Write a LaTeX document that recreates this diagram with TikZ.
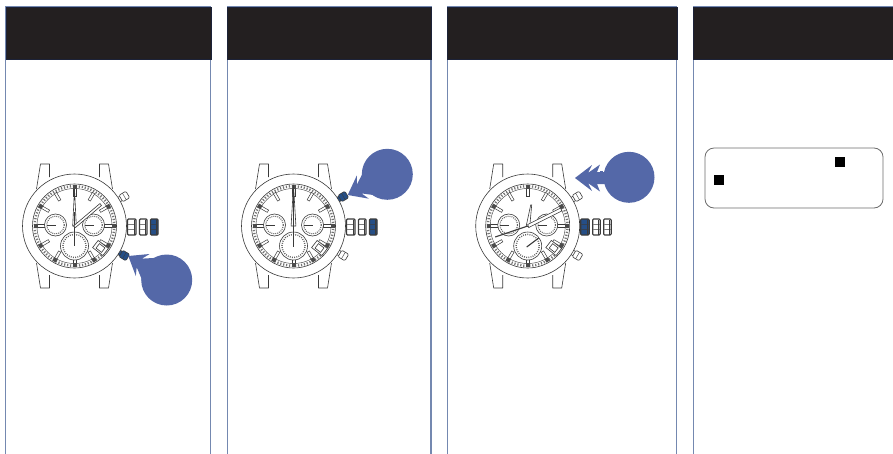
\documentclass[tikz,border=0pt]{standalone}
\usetikzlibrary{positioning,calc}
\definecolor{panelLine}{HTML}{7488B0}
\definecolor{headFill}{HTML}{231F20}
\definecolor{headEdge}{HTML}{1C2238}
\definecolor{pressBlue}{HTML}{5468A8}
\definecolor{btnBlue}{HTML}{254E86}
\definecolor{inkLine}{HTML}{3A3A3A}
\tikzset{
  panel/.style={draw=panelLine,line width=1.1pt},
  header/.style={fill=headFill,draw=headEdge,line width=.6pt},
  ink/.style={draw=inkLine,line width=.6pt},
  press/.style={circle,fill=pressBlue,minimum size=51pt,inner sep=0pt},
  blacksq/.style={fill=black,minimum size=10pt,inner sep=0pt},
  watchcase/.pic={
    % lugs
    \foreach \sx in {-1,1}{\foreach \sy in {-1,1}{
      \draw[ink,fill=white,line join=round] (\sx*38,\sy*37)--(\sx*34,\sy*62)--(\sx*25,\sy*62)--(\sx*25,\sy*49);}}
    \draw[ink,fill=white] (0,0) circle (52pt);
    \draw[ink] (0,0) circle (42pt);
    \draw[ink,line width=.4pt] (0,0) circle (37.5pt);
    \draw[draw=inkLine!70,line width=2.4pt,dash pattern=on 1.2pt off 1.8pt] (0,0) circle (39.8pt);
    % hour batons and rim squares
    \foreach \a in {0,30,...,330}{
      \draw[ink,line width=.5pt,fill=white,rotate=\a] (29.5,-1.3) rectangle (38,1.3);}
    \foreach \a in {0,30,-30,-60,-90,-120,-150,150,180,90}{
      \fill[black!70,rotate=\a] (37,-2) rectangle (41,2);}
    % small dials
    \foreach \dx in {-19,19}{
      \draw[ink,fill=white] (\dx,-1) circle (11pt);
      \draw[draw=inkLine!80,line width=1.1pt,dash pattern=on .9pt off 1.1pt] (\dx,-1) circle (8.8pt);}
    \draw[ink,fill=white] (0,20) circle (14pt);
    \draw[draw=inkLine!80,line width=1.4pt,dash pattern=on .9pt off 1.3pt] (0,20) circle (11.6pt);
    % date window
    \begin{scope}[shift={(26,22)},rotate=-38]
      \draw[ink,fill=white] (-6.5,-4.5) rectangle (6.5,4.5);
      \draw[ink] (-3.5,-2.8) rectangle (3.5,2.8);
    \end{scope}
    \draw[ink,line width=.8pt] (-28,-1)--(-19,-1);
    \draw[ink,line width=.8pt] (10,-1)--(19,-1);
  },
  pressarrow/.pic={
    \fill[pressBlue] (0,0)--(17,-13)--(13,-5)--(25,-13.5)--(22,-6)--(32,-6)--(32,6)--(22,6)--(25,13.5)--(13,5)--(17,13)--cycle;
  },
}
\newcommand\crownrow[3]{
  \foreach \xo/\wd/\col in {53/8.5/#1,65/7.5/#2,76/7.5/#3}{
    \draw[draw=inkLine,line width=1.1pt,fill=\col,rounded corners=1pt] (\xo,-7) rectangle (\xo+\wd,9);
    \foreach \yo in {-1.8,3.6}{\draw[draw=\col!35!inkLine,line width=1.1pt] (\xo+.5,\yo)--(\xo+\wd-.5,\yo);}
    \draw[draw=inkLine,line width=.8pt] (\xo+\wd-1.8,-6.5)--(\xo+\wd-1.8,8.5);
  }
}
\newcommand\pusher[3]{
  \begin{scope}[shift={(#1,#2)},rotate=#2*-1.05]
    \draw[ink,fill=#3,rounded corners=1pt] (-7,-2.5) rectangle (-2,2.5);
    \draw[ink,fill=#3,rounded corners=1.2pt] (-3,-3.8) rectangle (5,3.8);
    \draw[ink,line width=.4pt] (1,-3.8)--(1,3.8);
  \end{scope}
}
\begin{document}
\begin{tikzpicture}[x=1pt,y=-1pt]
\useasboundingbox (0,0) rectangle (893,453);
% the four columns
\foreach \xa/\xb in {5.8/210.8,227.3/431,447.3/676.8,693.5/900}{
  \draw[panel] (\xa,460)--(\xa,7)--(\xb,7)--(\xb,460);
  \draw[header] (\xa,7) rectangle (\xb,59);
}
% first watch
\begin{scope}[shift={(74.5,226)}]
  \pusher{49}{-29}{white}
  \pusher{49}{29}{btnBlue}
  \crownrow{white}{white}{btnBlue}
  \pic {watchcase};
  \draw[draw=inkLine,fill=white,line width=.6pt] (-1.8,0)--(0,-37)--(1.8,0)--cycle;
  \draw[draw=inkLine,line width=1.6pt] (0,-14)--(0,20);
  \draw[draw=inkLine,fill=white,line width=.6pt] (-1,0)--(25.5,-22.5)--(27,-20.5)--(1,1.5)--cycle;
\end{scope}
\node[press] (pressA) at (166.7,280) {};
\pic[rotate=-32] at (128.3,256) {pressarrow};
% second watch
\begin{scope}[shift={(293.5,226)}]
  \pusher{49}{-29}{btnBlue}
  \pusher{49}{29}{white}
  \crownrow{white}{white}{btnBlue}
  \pic {watchcase};
  \draw[draw=inkLine,fill=white,line width=.6pt] (-2.4,0)--(0,-41)--(2.4,0)--cycle;
  \draw[draw=inkLine,line width=1.7pt] (0,-34)--(0,21);
\end{scope}
\node[press] (pressB) at (387.3,174.3) {};
\pic[rotate=27.6] at (347.7,195) {pressarrow};
% third watch
\begin{scope}[shift={(527.7,226)}]
  \pusher{49}{-29}{white}
  \pusher{49}{29}{white}
  \crownrow{btnBlue}{white}{white}
  \pic {watchcase};
  \draw[draw=inkLine,fill=white,line width=.6pt] (-1.5,0)--(3,-21)--(4,-21)--(2,1)--cycle;
  \draw[draw=inkLine,fill=white,line width=.6pt] (0,-1.5)--(33,-18)--(34,-15)--(1,1.5)--cycle;
  \draw[draw=inkLine,line width=1.1pt] (-32.5,11)--(0,0);
  \draw[draw=inkLine,line width=1.1pt] (-1,21)--(11,12);
\end{scope}
\node[press] (pressC) at (629,177.3) {};
\pic[rotate=0] at (575,178) {pressarrow};
\draw[pressBlue,line width=12pt] (600,177.3)--(pressC);
% note box
\node[draw=black!58,line width=.8pt,fill=white,rounded corners=9pt,minimum width=178pt,minimum height=60pt,inner sep=0pt] (note) at (794,178) {};
\node[blacksq] (markA) at (840,162) {};
\node[blacksq] (markB) at (719.3,180) {};
\end{tikzpicture}
\end{document}
